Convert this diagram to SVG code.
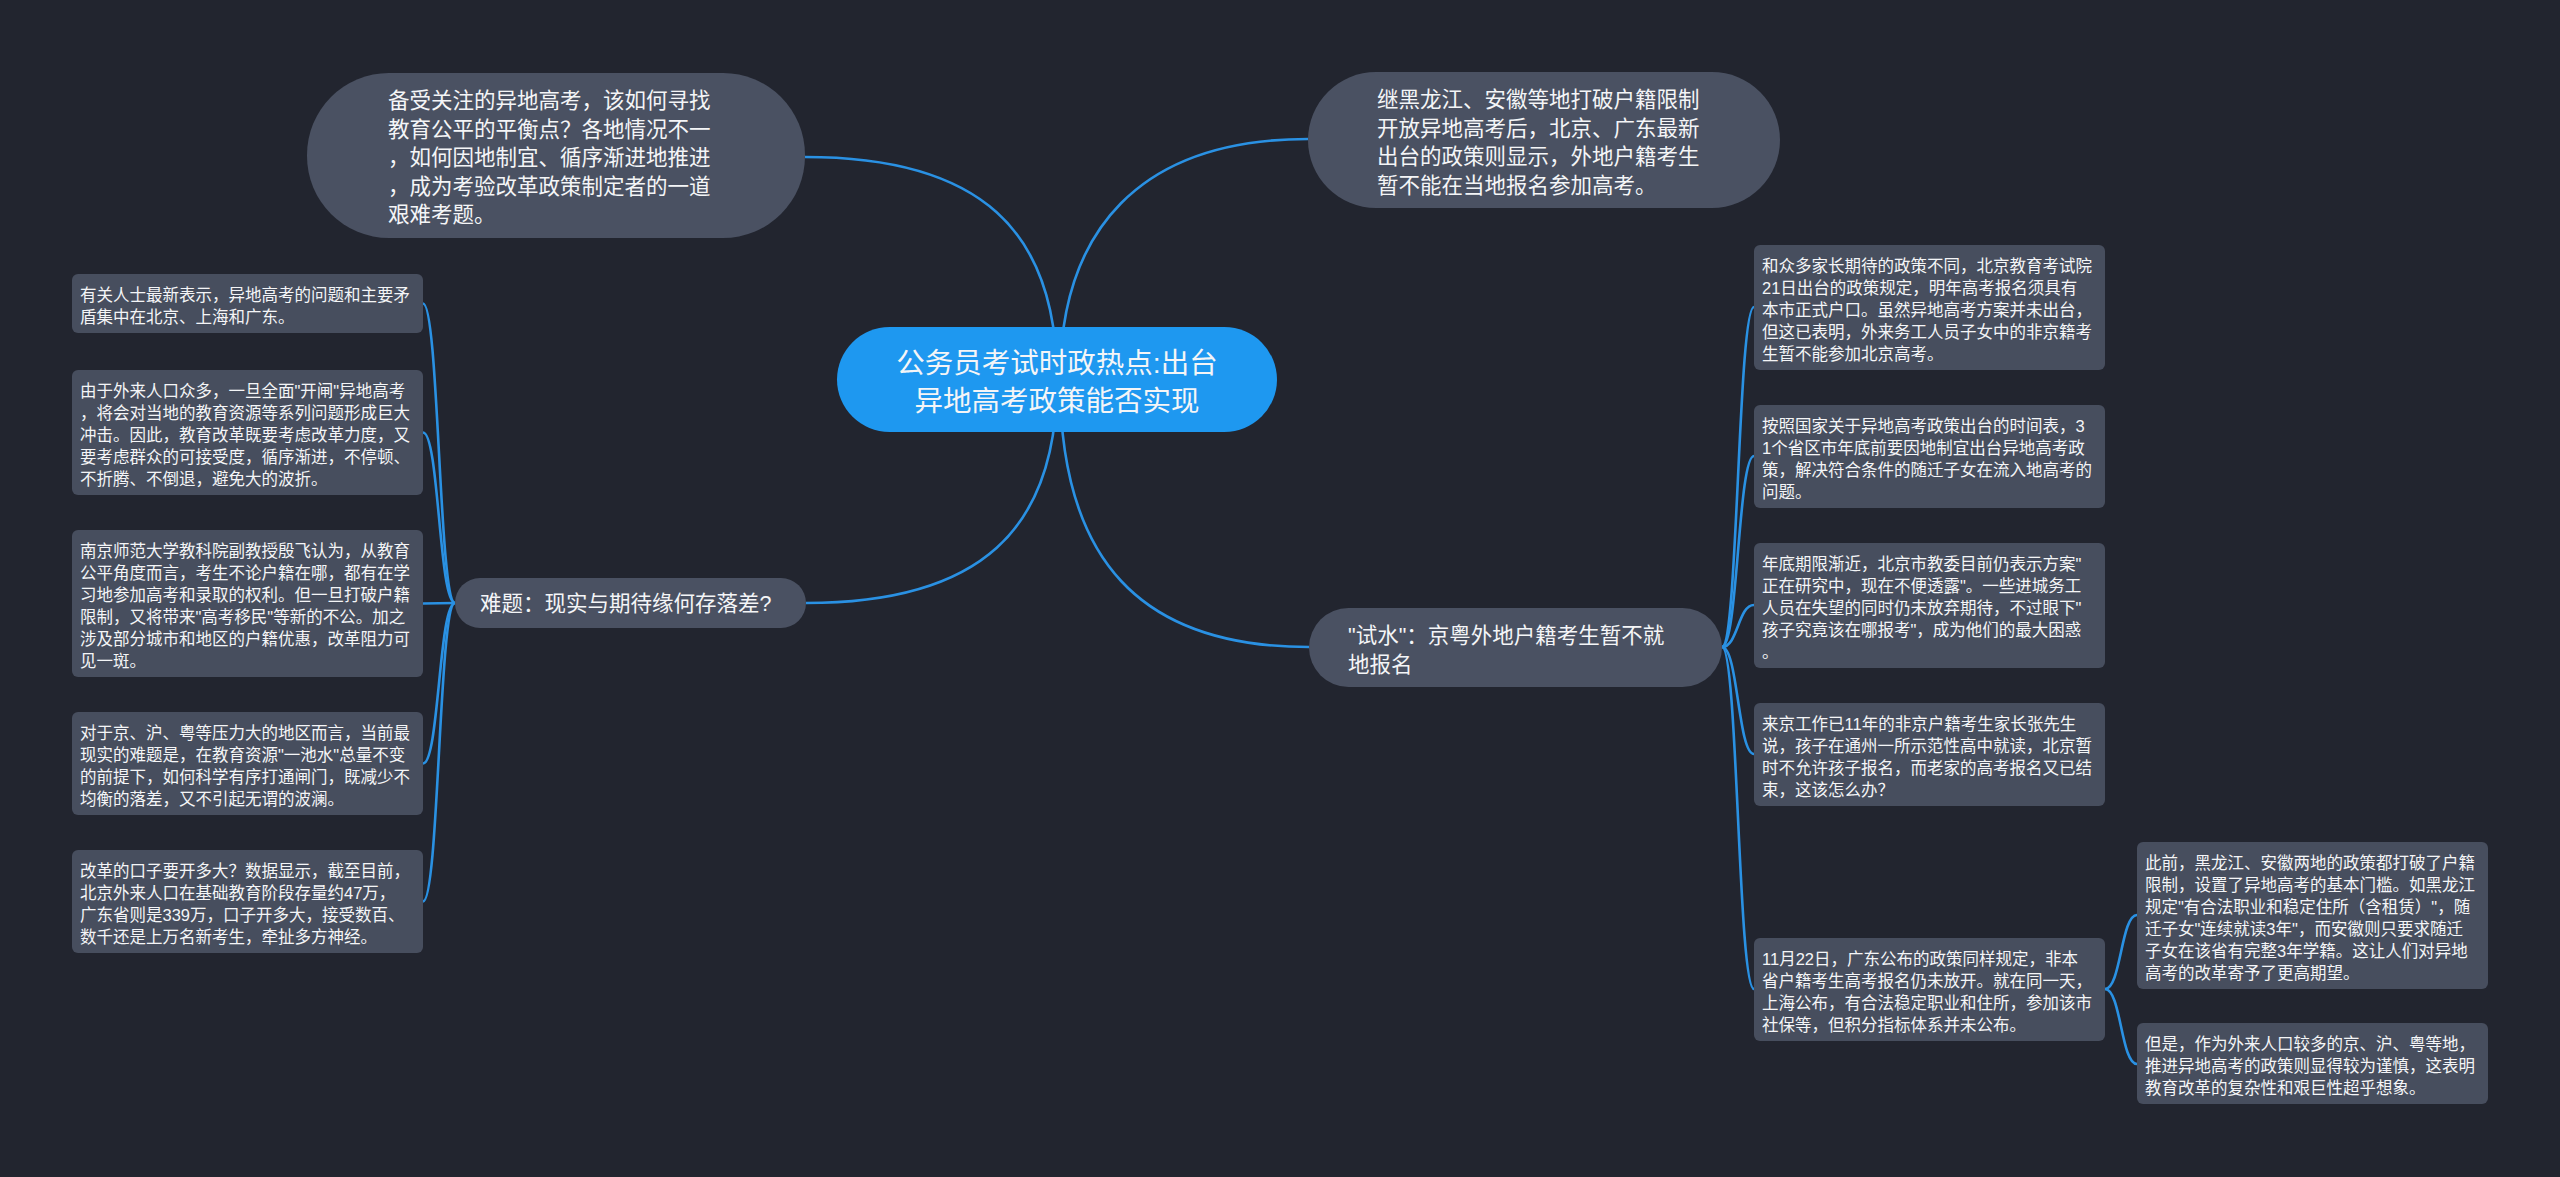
<svg xmlns="http://www.w3.org/2000/svg" width="2560" height="1177" viewBox="0 0 2560 1177">
<style>
.bg{fill:#22252f}
.mid{fill:#4a5162}
.leaf{fill:#474e5e}
.root{fill:#1e98f0}
.t{font-family:"Liberation Sans","Noto Sans CJK SC",sans-serif;fill:#f4f5f7}
.tm{font-size:21.5px}
.tl{font-size:16.5px}
.tr{font-size:28.5px}
.c{fill:none;stroke:#2a91e3;stroke-width:2.6}
</style>
<rect class="bg" x="0" y="0" width="2560" height="1177"/>
<g id="connectors">
<path class="c" d="M1057,380 C1057,230 980,157 805,157"/>
<path class="c" d="M1060,380 C1060,230 1140,139 1308,139"/>
<path class="c" d="M1057,380 C1057,530 980,603 806,603"/>
<path class="c" d="M1060,380 C1060,560 1140,647 1309,647"/>
<path class="c" d="M455,603 C439,603 439,303.5 423,303.5"/>
<path class="c" d="M455,603 C439,603 439,432.5 423,432.5"/>
<path class="c" d="M455,603 L423,603.5"/>
<path class="c" d="M455,603 C439,603 439,763.5 423,763.5"/>
<path class="c" d="M455,603 C439,603 439,901.5 423,901.5"/>
<path class="c" d="M1722,647 C1738,647 1738,307 1754,307"/>
<path class="c" d="M1722,647 C1738,647 1738,456 1754,456"/>
<path class="c" d="M1722,647 C1738,647 1738,605 1754,605"/>
<path class="c" d="M1722,647 C1738,647 1738,754 1754,754"/>
<path class="c" d="M1722,647 C1738,647 1738,989 1754,989"/>
<path class="c" d="M2105,989 C2121,989 2121,915 2137,915"/>
<path class="c" d="M2105,989 C2121,989 2121,1064 2137,1064"/>
</g>
<g id="root">
<rect class="root" x="837" y="327" width="440" height="105" rx="52.5"/>
<text class="t tr" text-anchor="middle"><tspan x="1057" y="373">公务员考试时政热点:出台</tspan><tspan x="1057" y="411">异地高考政策能否实现</tspan></text>
</g>
<g id="n-top-left">
<rect class="mid" x="307" y="73" width="498" height="165" rx="82"/>
<text class="t tm"><tspan x="388" y="108">备受关注的异地高考，该如何寻找</tspan><tspan x="388" y="136.5">教育公平的平衡点？各地情况不一</tspan><tspan x="388" y="165">，如何因地制宜、循序渐进地推进</tspan><tspan x="388" y="193.5">，成为考验改革政策制定者的一道</tspan><tspan x="388" y="222">艰难考题。</tspan></text>
</g>
<g id="n-top-right">
<rect class="mid" x="1308" y="72" width="472" height="136" rx="68"/>
<text class="t tm"><tspan x="1377" y="107">继黑龙江、安徽等地打破户籍限制</tspan><tspan x="1377" y="135.5">开放异地高考后，北京、广东最新</tspan><tspan x="1377" y="164">出台的政策则显示，外地户籍考生</tspan><tspan x="1377" y="192.5">暂不能在当地报名参加高考。</tspan></text>
</g>
<g id="n-difficulty">
<rect class="mid" x="455" y="578" width="351" height="50" rx="25"/>
<text class="t tm"><tspan x="480" y="611">难题：现实与期待缘何存落差?</tspan></text>
</g>
<g id="n-trial">
<rect class="mid" x="1309" y="608" width="413" height="79" rx="39.5"/>
<text class="t tm"><tspan x="1348" y="643">"试水"：京粤外地户籍考生暂不就</tspan><tspan x="1348" y="671.5">地报名</tspan></text>
</g>
<g id="l1">
<rect class="leaf" x="72" y="274" width="351" height="59" rx="6"/>
<text class="t tl"><tspan x="80" y="301">有关人士最新表示，异地高考的问题和主要矛</tspan><tspan x="80" y="323">盾集中在北京、上海和广东。</tspan></text>
</g>
<g id="l2">
<rect class="leaf" x="72" y="370" width="351" height="125" rx="6"/>
<text class="t tl"><tspan x="80" y="397">由于外来人口众多，一旦全面"开闸"异地高考</tspan><tspan x="80" y="419">，将会对当地的教育资源等系列问题形成巨大</tspan><tspan x="80" y="441">冲击。因此，教育改革既要考虑改革力度，又</tspan><tspan x="80" y="463">要考虑群众的可接受度，循序渐进，不停顿、</tspan><tspan x="80" y="485">不折腾、不倒退，避免大的波折。</tspan></text>
</g>
<g id="l3">
<rect class="leaf" x="72" y="530" width="351" height="147" rx="6"/>
<text class="t tl"><tspan x="80" y="557">南京师范大学教科院副教授殷飞认为，从教育</tspan><tspan x="80" y="579">公平角度而言，考生不论户籍在哪，都有在学</tspan><tspan x="80" y="601">习地参加高考和录取的权利。但一旦打破户籍</tspan><tspan x="80" y="623">限制，又将带来"高考移民"等新的不公。加之</tspan><tspan x="80" y="645">涉及部分城市和地区的户籍优惠，改革阻力可</tspan><tspan x="80" y="667">见一斑。</tspan></text>
</g>
<g id="l4">
<rect class="leaf" x="72" y="712" width="351" height="103" rx="6"/>
<text class="t tl"><tspan x="80" y="739">对于京、沪、粤等压力大的地区而言，当前最</tspan><tspan x="80" y="761">现实的难题是，在教育资源"一池水"总量不变</tspan><tspan x="80" y="783">的前提下，如何科学有序打通闸门，既减少不</tspan><tspan x="80" y="805">均衡的落差，又不引起无谓的波澜。</tspan></text>
</g>
<g id="l5">
<rect class="leaf" x="72" y="850" width="351" height="103" rx="6"/>
<text class="t tl"><tspan x="80" y="877">改革的口子要开多大？数据显示，截至目前，</tspan><tspan x="80" y="899">北京外来人口在基础教育阶段存量约47万，</tspan><tspan x="80" y="921">广东省则是339万，口子开多大，接受数百、</tspan><tspan x="80" y="943">数千还是上万名新考生，牵扯多方神经。</tspan></text>
</g>
<g id="r1">
<rect class="leaf" x="1754" y="245" width="351" height="125" rx="6"/>
<text class="t tl"><tspan x="1762" y="272">和众多家长期待的政策不同，北京教育考试院</tspan><tspan x="1762" y="294">21日出台的政策规定，明年高考报名须具有</tspan><tspan x="1762" y="316">本市正式户口。虽然异地高考方案并未出台，</tspan><tspan x="1762" y="338">但这已表明，外来务工人员子女中的非京籍考</tspan><tspan x="1762" y="360">生暂不能参加北京高考。</tspan></text>
</g>
<g id="r2">
<rect class="leaf" x="1754" y="405" width="351" height="103" rx="6"/>
<text class="t tl"><tspan x="1762" y="432">按照国家关于异地高考政策出台的时间表，3</tspan><tspan x="1762" y="454">1个省区市年底前要因地制宜出台异地高考政</tspan><tspan x="1762" y="476">策，解决符合条件的随迁子女在流入地高考的</tspan><tspan x="1762" y="498">问题。</tspan></text>
</g>
<g id="r3">
<rect class="leaf" x="1754" y="543" width="351" height="125" rx="6"/>
<text class="t tl"><tspan x="1762" y="570">年底期限渐近，北京市教委目前仍表示方案"</tspan><tspan x="1762" y="592">正在研究中，现在不便透露"。一些进城务工</tspan><tspan x="1762" y="614">人员在失望的同时仍未放弃期待，不过眼下"</tspan><tspan x="1762" y="636">孩子究竟该在哪报考"，成为他们的最大困惑</tspan><tspan x="1762" y="658">。</tspan></text>
</g>
<g id="r4">
<rect class="leaf" x="1754" y="703" width="351" height="103" rx="6"/>
<text class="t tl"><tspan x="1762" y="730">来京工作已11年的非京户籍考生家长张先生</tspan><tspan x="1762" y="752">说，孩子在通州一所示范性高中就读，北京暂</tspan><tspan x="1762" y="774">时不允许孩子报名，而老家的高考报名又已结</tspan><tspan x="1762" y="796">束，这该怎么办？</tspan></text>
</g>
<g id="r5">
<rect class="leaf" x="1754" y="938" width="351" height="103" rx="6"/>
<text class="t tl"><tspan x="1762" y="965">11月22日，广东公布的政策同样规定，非本</tspan><tspan x="1762" y="987">省户籍考生高考报名仍未放开。就在同一天，</tspan><tspan x="1762" y="1009">上海公布，有合法稳定职业和住所，参加该市</tspan><tspan x="1762" y="1031">社保等，但积分指标体系并未公布。</tspan></text>
</g>
<g id="r5a">
<rect class="leaf" x="2137" y="842" width="351" height="147" rx="6"/>
<text class="t tl"><tspan x="2145" y="869">此前，黑龙江、安徽两地的政策都打破了户籍</tspan><tspan x="2145" y="891">限制，设置了异地高考的基本门槛。如黑龙江</tspan><tspan x="2145" y="913">规定"有合法职业和稳定住所（含租赁）"，随</tspan><tspan x="2145" y="935">迁子女"连续就读3年"，而安徽则只要求随迁</tspan><tspan x="2145" y="957">子女在该省有完整3年学籍。这让人们对异地</tspan><tspan x="2145" y="979">高考的改革寄予了更高期望。</tspan></text>
</g>
<g id="r5b">
<rect class="leaf" x="2137" y="1023" width="351" height="81" rx="6"/>
<text class="t tl"><tspan x="2145" y="1050">但是，作为外来人口较多的京、沪、粤等地，</tspan><tspan x="2145" y="1072">推进异地高考的政策则显得较为谨慎，这表明</tspan><tspan x="2145" y="1094">教育改革的复杂性和艰巨性超乎想象。</tspan></text>
</g>
</svg>
